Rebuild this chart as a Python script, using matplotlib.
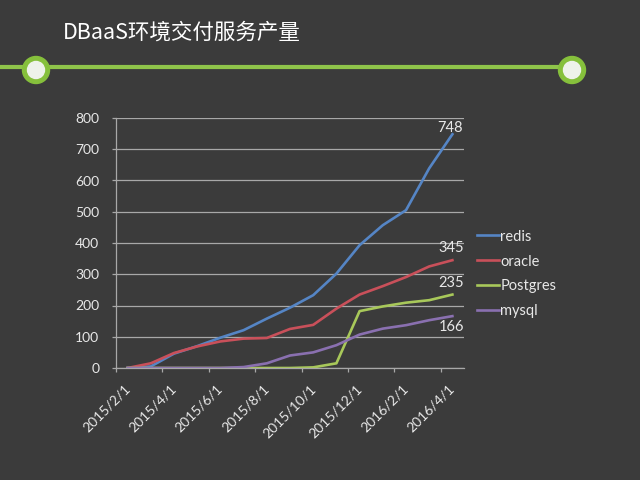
import numpy as np
import matplotlib
matplotlib.use('Agg')
import matplotlib.pyplot as plt
from matplotlib.patches import Circle
from matplotlib.transforms import ScaledTranslation

# monthly values (Feb 2015 .. Apr 2016)
months = ['2015/2/1', '2015/3/1', '2015/4/1', '2015/5/1', '2015/6/1', '2015/7/1', '2015/8/1',
          '2015/9/1', '2015/10/1', '2015/11/1', '2015/12/1', '2016/1/1', '2016/2/1', '2016/3/1',
          '2016/4/1']
redis = [0, 5, 46, 70, 97, 121, 158, 193, 233, 302, 393, 457, 505, 639, 748]
oracle = [0, 15, 48, 69, 85, 94, 96, 125, 138, 190, 235, 262, 291, 325, 345]
postgres = [0, 0, 0, 0, 0, 0, 0, 0, 2, 15, 182, 197, 209, 217, 235]
mysql = [0, 0, 0, 0, 0, 3, 15, 40, 50, 73, 107, 126, 137, 153, 166]

series = [('redis', redis, '#5585c5'), ('oracle', oracle, '#c9505a'),
          ('Postgres', postgres, '#a8c85a'), ('mysql', mysql, '#8a70b0')]

bg = '#3b3b3b'
txt = '#e8e8e8'
grid = '#a8a8a8'
plt.rcParams['font.family'] = ['Lato', 'DejaVu Sans']

fig = plt.figure(figsize=(6.4, 4.8), dpi=100, facecolor=bg)

# header decoration in pixel coordinates
deco = fig.add_axes([0, 0, 1, 1])
deco.set_xlim(0, 640)
deco.set_ylim(480, 0)
deco.axis('off')
deco.plot([0, 572], [67, 67], color='#8fc44a', lw=3, solid_capstyle='butt', zorder=1)
for cx in [36, 572]:
    deco.add_patch(Circle((cx, 70), 13.5, color='#86c03c', zorder=2))
    deco.add_patch(Circle((cx, 70), 8.5, color='#eef2ea', zorder=3))
deco.text(63, 33, 'DBaaS环境交付服务产量', fontsize=15.5, color='white', va='center',
          family=['Noto Sans CJK SC', 'DejaVu Sans'])

ax = fig.add_axes([116 / 640, 1 - 368 / 480, 348 / 640, 250 / 480])
ax.set_facecolor(bg)
x = np.arange(len(months)) + 0.5
for name, vals, color in series:
    ax.plot(x, vals, color=color, lw=1.9, label=name)

# end labels
ax.annotate(str(redis[-1]), (x[-1], redis[-1]), xytext=(-2, -0.5), textcoords='offset points',
            ha='center', va='bottom', color=txt, fontsize=10.5)
ax.annotate(str(oracle[-1]), (x[-1], oracle[-1]), xytext=(-1, 4), textcoords='offset points',
            ha='center', va='bottom', color=txt, fontsize=10.5)
ax.annotate(str(postgres[-1]), (x[-1], postgres[-1]), xytext=(-1, 3), textcoords='offset points',
            ha='center', va='bottom', color=txt, fontsize=10.5)
ax.annotate(str(mysql[-1]), (x[-1], mysql[-1]), xytext=(-1, -3), textcoords='offset points',
            ha='center', va='top', color=txt, fontsize=10.5)

ax.set_xlim(0, len(months))
ax.set_ylim(0, 800)
ax.set_yticks(range(0, 801, 100))
xt = np.arange(0, len(months), 2)
ax.set_xticks(xt)
ax.set_xticklabels([])
# rotated date labels, placed like Excel does
offset = ScaledTranslation(12 / 100, -19 / 100, fig.dpi_scale_trans)
for xi in xt:
    ax.text(xi, 0, months[xi], transform=ax.get_xaxis_transform() + offset, rotation=45,
            ha='right', va='center', rotation_mode='anchor', color=txt, fontsize=10)

ax.grid(axis='y', color=grid, lw=0.9)
ax.set_axisbelow(True)
for s in ['top', 'right']:
    ax.spines[s].set_visible(False)
for s in ['left', 'bottom']:
    ax.spines[s].set_color(grid)
    ax.spines[s].set_linewidth(0.9)
ax.tick_params(axis='both', colors=grid, labelcolor=txt, labelsize=10, length=3, width=0.9)
ax.tick_params(axis='y', pad=9)

leg = ax.legend(loc='center left', bbox_to_anchor=(1.02, 0.376), frameon=False, fontsize=10.5,
                handlelength=1.5, handletextpad=0.1, labelspacing=0.75, borderaxespad=0)
for t in leg.get_texts():
    t.set_color(txt)

fig.savefig('out.png', dpi=100, facecolor=bg)
